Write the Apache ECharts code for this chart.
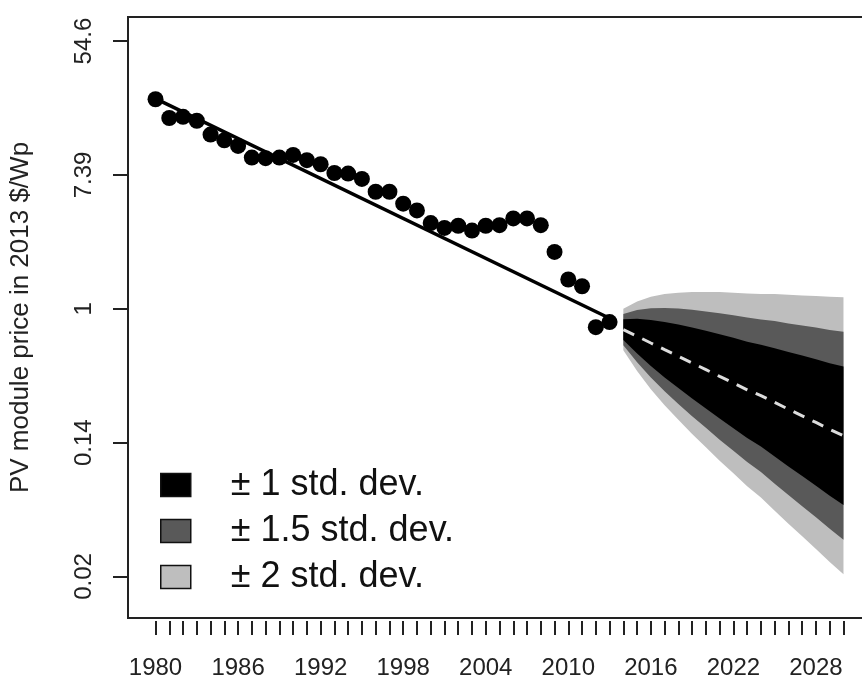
<!DOCTYPE html>
<html>
<head>
<meta charset="utf-8">
<title>PV module price forecast</title>
<script src="https://cdn.jsdelivr.net/npm/echarts@6/dist/echarts.min.js"></script>
<style>
    html, body { margin: 0; padding: 0; background: #fff; }
    #main { width: 862px; height: 676px; }
</style>
</head>
<body>
<div id="main"></div>
<script>
// observed module prices, 2013 $/Wp
var years = [1980, 1981, 1982, 1983, 1984, 1985, 1986, 1987, 1988, 1989,
    1990, 1991, 1992, 1993, 1994, 1995, 1996, 1997, 1998, 1999,
    2000, 2001, 2002, 2003, 2004, 2005, 2006, 2007, 2008, 2009,
    2010, 2011, 2012, 2013];
var prices = [22.9, 17.3, 17.6, 16.6, 13.5, 12.4, 11.4, 9.58, 9.49, 9.58,
    9.97, 9.21, 8.67, 7.61, 7.54, 6.96, 5.75, 5.75, 4.81, 4.35,
    3.60, 3.35, 3.46, 3.22, 3.46, 3.49, 3.86, 3.86, 3.49, 2.34,
    1.55, 1.40, 0.76, 0.82];

// fitted trend line
var fitYears = [1980, 2013];
var fitPrices = [23.1, 0.868];

// forecast: median price and std. dev. of log price
var forecastYears = [2014, 2015, 2016, 2017, 2018, 2019, 2020, 2021, 2022,
    2023, 2024, 2025, 2026, 2027, 2028, 2029, 2030];
var forecastPrices = [0.733, 0.664, 0.600, 0.543, 0.492, 0.445, 0.403, 0.364, 0.330,
    0.298, 0.273, 0.247, 0.223, 0.202, 0.183, 0.165, 0.150];
var forecastSd = [0.155, 0.26, 0.345, 0.415, 0.475, 0.53, 0.58, 0.63, 0.675,
    0.72, 0.76, 0.81, 0.855, 0.90, 0.945, 0.99, 1.035];

var bandNames = ['± 1 std. dev.', '± 1.5 std. dev.', '± 2 std. dev.'];
var bandK = [1, 1.5, 2];
var bandColors = ['#000000', '#595959', '#bebebe'];

var xLabelYears = [1980, 1986, 1992, 1998, 2004, 2010, 2016, 2022, 2028];
var xTickYears = [];
for (var y = 1980; y <= 2030; y++) xTickYears.push(y);
var yTickValues = [-4, -2, 0, 2, 4];
var yTickLabels = ['0.02', '0.14', '1', '7.39', '54.6'];

var font = 'Liberation Sans, Arial, sans-serif';

function pairs(xs, vs) {
    var out = [];
    for (var i = 0; i < xs.length; i++) out.push([xs[i], Math.log(vs[i])]);
    return out;
}

// one polygon per band, widest first so the narrower ones sit on top
function bandSeries() {
    var list = [];
    for (var b = bandK.length - 1; b >= 0; b--) {
        var rows = [];
        for (var i = 0; i < forecastYears.length; i++) {
            var m = Math.log(forecastPrices[i]);
            rows.push([forecastYears[i], m - bandK[b] * forecastSd[i], m + bandK[b] * forecastSd[i]]);
        }
        list.push({
            name: bandNames[b],
            type: 'custom',
            data: rows,
            encode: { x: 0, y: [1, 2] },
            color: bandColors[b],
            silent: true,
            z: 2 + (2 - b) * 0.1,
            renderItem: (function (rows, color) {
                return function (params, api) {
                    if (params.dataIndex !== 0) return;
                    var top = [], bottom = [];
                    for (var j = 0; j < rows.length; j++) {
                        top.push(api.coord([rows[j][0], rows[j][2]]));
                        bottom.unshift(api.coord([rows[j][0], rows[j][1]]));
                    }
                    return {
                        type: 'polygon',
                        shape: { points: top.concat(bottom) },
                        style: { fill: color, stroke: null }
                    };
                };
            })(rows, bandColors[b])
        });
    }
    return list;
}

var myChart = echarts.init(document.getElementById('main'));

var series = bandSeries();
series.push({
    name: 'median',
    type: 'line',
    data: pairs(forecastYears, forecastPrices),
    symbol: 'none',
    lineStyle: { color: '#dcdcdc', width: 3, type: [12, 9] },
    z: 5
});
series.push({
    name: 'fit',
    type: 'line',
    data: pairs(fitYears, fitPrices),
    symbol: 'none',
    lineStyle: { color: '#000', width: 3.5 },
    z: 6
});
series.push({
    name: 'observed',
    type: 'scatter',
    data: pairs(years, prices),
    symbol: 'circle',
    symbolSize: 16,
    itemStyle: { color: '#000', opacity: 1 },
    z: 7
});

var option = {
    animation: false,
    backgroundColor: '#fff',
    textStyle: { fontFamily: font, color: '#222' },
    grid: {
        left: 128, top: 17, right: -9, bottom: 58,
        outerBoundsMode: 'none',
        containLabel: false,
        show: true, borderColor: '#222', borderWidth: 2,
        backgroundColor: 'transparent'
    },
    legend: {
        orient: 'vertical',
        left: 160,
        top: 467,
        padding: 0,
        itemWidth: 30,
        itemHeight: 23,
        itemGap: 10,
        selectedMode: false,
        data: bandNames.map(function (n, i) {
            return {
                name: n,
                icon: 'rect',
                itemStyle: { color: bandColors[i], borderColor: '#111', borderWidth: 1.5 }
            };
        }),
        textStyle: {
            fontFamily: font, fontSize: 36, color: '#111',
            lineHeight: 35, padding: [0, 0, 0, 35]
        }
    },
    xAxis: [{
        type: 'value', min: 1978, max: 2032,
        axisLine: { show: false },
        axisTick: { show: false },
        axisLabel: { show: false },
        splitLine: { show: false }
    }, {
        type: 'value', min: 1978, max: 2032,
        position: 'bottom',
        offset: 3,
        axisLine: { show: false },
        splitLine: { show: false },
        axisTick: {
            show: true, length: 14, customValues: xTickYears,
            lineStyle: { color: '#222', width: 2 }
        },
        axisLabel: {
            customValues: xLabelYears,
            margin: 35, fontSize: 24, color: '#222', fontFamily: font,
            formatter: function (v) { return String(v); }
        }
    }],
    yAxis: {
        type: 'value', min: -4.62, max: 4.36,
        name: 'PV module price in 2013 $/Wp',
        nameLocation: 'middle',
        nameGap: 94,
        nameTextStyle: { fontSize: 26, color: '#222', fontFamily: font },
        axisLine: { show: false },
        splitLine: { show: false },
        axisTick: {
            show: true, length: 15, customValues: yTickValues,
            lineStyle: { color: '#222', width: 2 }
        },
        axisLabel: {
            customValues: yTickValues,
            rotate: 90,
            margin: 32,
            fontSize: 24,
            color: '#222',
            fontFamily: font,
            formatter: function (v) {
                var i = yTickValues.indexOf(v);
                return i >= 0 ? yTickLabels[i] : '';
            }
        }
    },
    series: series
};
option && myChart.setOption(option);
</script>
</body>
</html>
